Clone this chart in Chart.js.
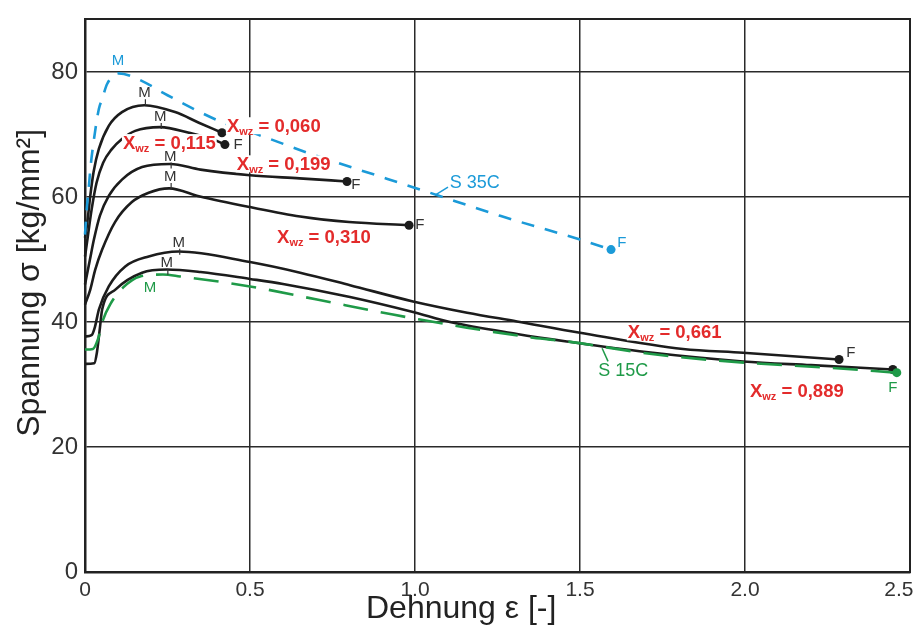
<!DOCTYPE html>
<html>
<head>
<meta charset="utf-8">
<script src="https://cdn.jsdelivr.net/npm/chart.js@4/dist/chart.umd.min.js"></script>
<style>
  html, body { margin: 0; padding: 0; background: #ffffff; }
  #wrap { width: 919px; height: 630px; }
</style>
</head>
<body>
<div id="wrap"><canvas id="c" width="919" height="630"></canvas></div>
<script>
// ---------- data ----------
const xTicks = [0, 0.5, 1.0, 1.5, 2.0, 2.5];
const xTickLabels = ['0', '0.5', '1.0', '1.5', '2.0', '2.5'];
const yTicks = [0, 20, 40, 60, 80];
const yTickLabels = ['0', '20', '40', '60', '80'];
const xTitle = 'Dehnung ε [-]';
const yTitle = 'Spannung σ [kg/mm²]';

const eps060 = [0, 0.006, 0.016, 0.026, 0.042, 0.072, 0.112, 0.18, 0.273, 0.345, 0.415];
const sig060 = [53.5, 55.5, 60.2, 64.0, 67.7, 71.4, 73.6, 74.7, 73.6, 71.9, 70.3];

const eps115 = [0, 0.008, 0.02, 0.035, 0.055, 0.08, 0.112, 0.152, 0.228, 0.315, 0.39, 0.424];
const sig115 = [50.5, 53.5, 58.0, 62.3, 65.5, 67.6, 69.3, 70.6, 71.2, 70.3, 69.2, 68.4];

const eps199 = [0, 0.015, 0.027, 0.045, 0.072, 0.112, 0.173, 0.258, 0.35, 0.5, 0.65, 0.794];
const sig199 = [46.0, 50.0, 53.2, 57.0, 60.2, 62.8, 64.8, 65.3, 64.4, 63.5, 63.0, 62.5];

const eps310 = [0, 0.016, 0.031, 0.052, 0.091, 0.142, 0.193, 0.255, 0.348, 0.5, 0.652, 0.8, 0.982];
const sig310 = [42.8, 45.2, 48.4, 51.6, 56.0, 59.2, 60.7, 61.4, 60.1, 58.4, 56.9, 56.0, 55.5];

const eps661 = [0, 0.02, 0.03, 0.042, 0.072, 0.122, 0.193, 0.284, 0.5, 0.652, 0.803, 0.994, 1.158, 1.309, 1.5, 1.812, 1.994, 2.285];
const sig661 = [37.7, 37.9, 39.2, 42.0, 45.7, 48.9, 50.5, 51.3, 49.6, 47.9, 45.9, 43.3, 41.5, 40.1, 38.3, 35.7, 35.1, 34.0];

const eps889 = [0, 0.028, 0.036, 0.044, 0.052, 0.092, 0.173, 0.248, 0.35, 0.5, 0.6, 0.803, 0.994, 1.106, 1.309, 1.46, 1.7, 1.994, 2.2, 2.448];
const sig889 = [33.3, 33.4, 35.1, 38.5, 42.0, 45.2, 47.9, 48.4, 48.0, 46.9, 46.1, 44.0, 41.6, 40.0, 38.1, 36.9, 35.2, 33.7, 33.1, 32.4];

const epsS35 = [0, 0.006, 0.011, 0.016, 0.026, 0.042, 0.052, 0.067, 0.102, 0.16, 0.25, 0.41, 0.545, 0.69, 0.894, 1.045, 1.258, 1.5, 1.594];
const sigS35 = [54.0, 58.5, 61.2, 64.4, 68.8, 74.1, 75.7, 78.1, 79.8, 78.9, 76.3, 72.1, 69.6, 66.8, 63.3, 60.7, 57.0, 53.2, 51.6];

const epsS15 = [0, 0.024, 0.039, 0.055, 0.076, 0.115, 0.167, 0.236, 0.288, 0.5, 0.703, 0.933, 1.015, 1.157, 1.358, 1.46, 1.73, 2.0, 2.25, 2.46];
const sigS15 = [35.6, 35.7, 37.2, 40.4, 42.8, 45.5, 47.3, 47.6, 47.3, 45.7, 43.6, 41.2, 40.4, 39.1, 37.5, 36.9, 34.8, 33.5, 32.7, 31.9];

// ---------- annotation texts (anchored in data coordinates) ----------
const xwzLabels = [
  { val: '0,060', e: 0.43,  s: 71.5 },
  { val: '0,115', e: 0.115, s: 68.8 },
  { val: '0,199', e: 0.46,  s: 65.4 },
  { val: '0,310', e: 0.582, s: 53.7 },
  { val: '0,661', e: 1.645, s: 38.5 },
  { val: '0,889', e: 2.015, s: 29.2 }
];
const mLabels = [
  { e: 0.10,  s: 81.8, color: '#1b9ad8', tick: false },
  { e: 0.18,  s: 76.6, color: '#333333', tick: true },
  { e: 0.228, s: 72.8, color: '#333333', tick: true },
  { e: 0.258, s: 66.5, color: '#333333', tick: true },
  { e: 0.258, s: 63.2, color: '#333333', tick: true },
  { e: 0.284, s: 52.7, color: '#333333', tick: true },
  { e: 0.248, s: 49.5, color: '#333333', tick: true },
  { e: 0.197, s: 45.4, color: '#1f9a48', tick: false }
];
const fLabels = [
  { e: 0.464, s: 68.3, color: '#333333' },
  { e: 0.821, s: 61.9, color: '#333333' },
  { e: 1.015, s: 55.5, color: '#333333' },
  { e: 2.321, s: 35.1, color: '#333333' },
  { e: 2.448, s: 29.5, color: '#1f9a48' },
  { e: 1.627, s: 52.7, color: '#1b9ad8' }
];
const steelLabels = [
  { text: 'S 35C', e: 1.105, s: 62.2, color: '#1b9ad8', from: [1.1, 61.6], to: [1.061, 60.3] },
  { text: 'S 15C', e: 1.555, s: 32.1, color: '#1f9a48', from: [1.585, 33.7], to: [1.567, 35.8] }
];

// ---------- helpers ----------
function pts(xs, ys) { return xs.map((x, i) => ({ x: x, y: ys[i] })); }
const BLACK = '#1c1c1c', BLUE = '#1b9ad8', GREEN = '#1f9a48', RED = '#e32b2b';
const FONT = '"Liberation Sans", Arial, sans-serif';

function curve(label, xs, ys, color, dash, dotR) {
  const n = xs.length;
  return {
    label: label,
    data: pts(xs, ys),
    showLine: true,
    borderColor: color,
    backgroundColor: color,
    borderWidth: 2.6,
    borderDash: dash,
    cubicInterpolationMode: 'monotone',
    pointRadius: (ctx) => ctx.dataIndex === n - 1 ? dotR : 0,
    pointHoverRadius: 0,
    pointBorderWidth: 0,
    clip: false,
    fill: false
  };
}

// frame, axis titles and annotation plugin
const framePlugin = {
  id: 'frame',
  beforeDatasetsDraw(chart) {
    const { ctx, chartArea: a } = chart;
    ctx.save();
    ctx.strokeStyle = '#222';
    ctx.lineWidth = 2;
    ctx.strokeRect(a.left, a.top, a.right - a.left, a.bottom - a.top);
    // axis titles
    ctx.fillStyle = '#222';
    ctx.textAlign = 'center';
    ctx.textBaseline = 'middle';
    ctx.font = '32px ' + FONT;
    ctx.fillText(xTitle, a.left + (a.right - a.left) * 0.456, 609);
    ctx.translate(30, a.top + (a.bottom - a.top) * 0.477);
    ctx.rotate(-Math.PI / 2);
    ctx.font = '32px ' + FONT;
    ctx.fillText(yTitle, 0, 0);
    ctx.restore();
  },
  afterDatasetsDraw(chart) {
    const { ctx } = chart;
    const xs = chart.scales.x, ys = chart.scales.y;
    const px = (e) => xs.getPixelForValue(e);
    const py = (s) => ys.getPixelForValue(s);
    ctx.save();
    // X_wz labels
    const big = 'bold 18.5px ' + FONT;
    const small = 'bold 11px ' + FONT;
    xwzLabels.forEach(l => {
      const x0 = px(l.e), yc = py(l.s);
      ctx.font = big; const wX = ctx.measureText('X').width;
      const rest = ' = ' + l.val; const wR = ctx.measureText(rest).width;
      ctx.font = small; const wS = ctx.measureText('wz').width;
      const total = wX + wS + wR;
      ctx.fillStyle = '#ffffff';
      ctx.fillRect(x0 - 1, yc - 8, total + 2, 17);
      ctx.fillStyle = RED;
      ctx.textBaseline = 'alphabetic';
      ctx.textAlign = 'left';
      ctx.font = big; ctx.fillText('X', x0, yc + 7);
      ctx.font = small; ctx.fillText('wz', x0 + wX, yc + 10);
      ctx.font = big; ctx.fillText(rest, x0 + wX + wS, yc + 7);
    });
    // M labels
    ctx.textAlign = 'center';
    ctx.textBaseline = 'middle';
    ctx.font = '15px ' + FONT;
    mLabels.forEach(l => {
      const x = px(l.e), y = py(l.s);
      ctx.fillStyle = l.color;
      ctx.fillText('M', x, y);
      if (l.tick) {
        ctx.strokeStyle = l.color; ctx.lineWidth = 1.2;
        ctx.beginPath(); ctx.moveTo(x + 1, y + 6); ctx.lineTo(x + 1, y + 12); ctx.stroke();
      }
    });
    // F labels
    fLabels.forEach(l => {
      ctx.fillStyle = l.color;
      ctx.fillText('F', px(l.e), py(l.s));
    });
    // steel grade labels with leader line
    ctx.textAlign = 'left';
    ctx.font = '18px ' + FONT;
    steelLabels.forEach(l => {
      ctx.fillStyle = l.color;
      ctx.fillText(l.text, px(l.e), py(l.s));
      ctx.strokeStyle = l.color; ctx.lineWidth = 1.5;
      ctx.beginPath();
      ctx.moveTo(px(l.from[0]), py(l.from[1]));
      ctx.lineTo(px(l.to[0]), py(l.to[1]));
      ctx.stroke();
    });
    ctx.restore();
  }
};

new Chart(document.getElementById('c'), {
  type: 'scatter',
  data: {
    datasets: [
      curve('S 35C', epsS35, sigS35, BLUE, [13, 11], 4.5),
      curve('S 15C', epsS15, sigS15, GREEN, [25, 13], 4.5),
      curve('Xwz 0,060', eps060, sig060, BLACK, [], 4.5),
      curve('Xwz 0,115', eps115, sig115, BLACK, [], 4.5),
      curve('Xwz 0,199', eps199, sig199, BLACK, [], 4.5),
      curve('Xwz 0,310', eps310, sig310, BLACK, [], 4.5),
      curve('Xwz 0,661', eps661, sig661, BLACK, [], 4.5),
      curve('Xwz 0,889', eps889, sig889, BLACK, [], 4.5)
    ]
  },
  options: {
    responsive: false,
    animation: false,
    devicePixelRatio: 1,
    layout: { padding: { top: 19, right: 9, left: 0, bottom: 0 } },
    plugins: { legend: { display: false }, tooltip: { enabled: false } },
    scales: {
      x: {
        type: 'linear',
        min: 0, max: 2.5,
        afterBuildTicks: (s) => { s.ticks = xTicks.map(v => ({ value: v })); },
        afterFit: (s) => { s.height = 58; s.paddingLeft = 0; s.paddingRight = 0; },
        ticks: {
          // last label nudged left (as in the reference) so it is not cut off at the canvas edge
          callback: (v, i) => i === xTickLabels.length - 1 ? xTickLabels[i] + '\u2007\u2002' : xTickLabels[i],
          color: '#333', font: { family: FONT, size: 21 }, padding: 6, maxRotation: 0, autoSkip: false
        },
        grid: { color: '#2a2a2a', lineWidth: 1.5, drawTicks: false },
        border: { color: '#222', width: 2.5 },
        title: { display: false }
      },
      y: {
        type: 'linear',
        min: 0, max: 88.5,
        afterBuildTicks: (s) => { s.ticks = yTicks.map(v => ({ value: v })); },
        afterFit: (s) => { s.width = 85; s.paddingTop = 0; s.paddingBottom = 0; },
        ticks: {
          callback: (v, i) => yTickLabels[i],
          color: '#333', font: { family: FONT, size: 24 }, padding: 7, autoSkip: false
        },
        grid: { color: '#2a2a2a', lineWidth: 1.5, drawTicks: false },
        border: { color: '#222', width: 2.5 },
        title: { display: false }
      }
    }
  },
  plugins: [framePlugin]
});
</script>
</body>
</html>
